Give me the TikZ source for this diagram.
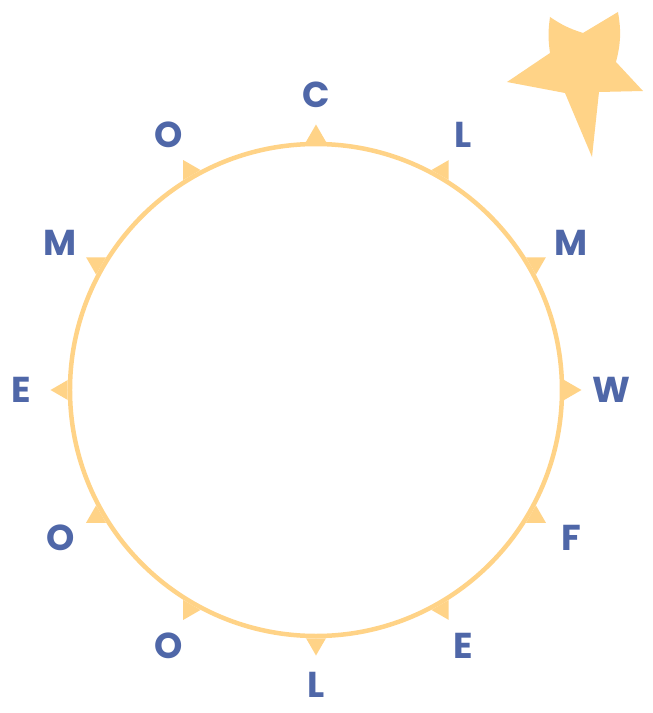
\documentclass[tikz,border=0pt]{standalone}
\usepackage{fontspec}
\setmainfont{Poppins}
\definecolor{sunny}{HTML}{FFD387}
\definecolor{inkblue}{HTML}{4F67A8}

\begin{document}
\begin{tikzpicture}[
  x=1pt,
  y=1pt,
  ring/.style={draw=sunny, line width=4.5pt},
  pointer/.style={fill=sunny},
  starfill/.style={fill=sunny},
  letter/.style={text=inkblue, font=\fontsize{36}{36}\selectfont\bfseries, inner sep=0pt}
]
  \useasboundingbox (-316,-323) rectangle (337,390);

  \coordinate (hub) at (0,0);
  \draw[ring] (hub) circle [radius=246];

  % twelve little triangles on the ring
  \foreach \a in {0,30,...,330} {
    \fill[pointer] ([shift={(\a:254)}]\a:11.5) -- ([shift={(\a:254)}]\a+120:11.5)
      -- ([shift={(\a:254)}]\a+240:11.5) -- cycle;
  }

  % letters round the ring
  \foreach \a/\t [count=\i] in {90/C,60/L,30/M,0/W,-30/F,-60/E,-90/L,-120/O,-150/O,180/E,150/M,120/O} {
    \node[letter] (let\i) at (\a:295) {\t};
  }

  % star
  \fill[starfill] (234,373) to[bend right=8] (267,357) -- (302,378)
    to[bend left=12] (300,328) -- (327,299) -- (283,298) -- (276,233)
    -- (249,297) -- (191,308) -- (234,337) to[bend left=8] cycle;
\end{tikzpicture}
\end{document}
